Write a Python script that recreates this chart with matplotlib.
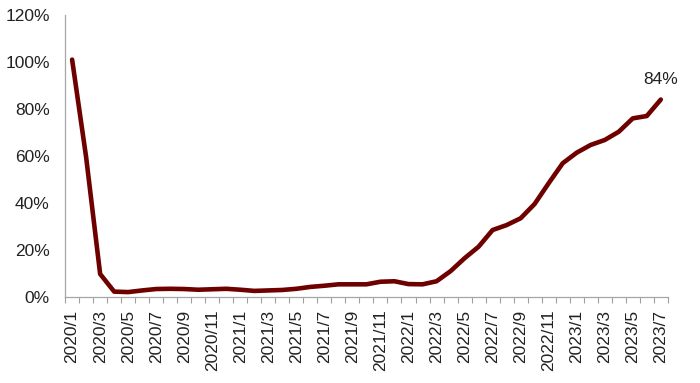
import matplotlib
matplotlib.use("Agg")
import matplotlib.pyplot as plt
from matplotlib.ticker import FixedLocator, FuncFormatter

plt.rcParams['font.family'] = ['Liberation Sans', 'DejaVu Sans']

months = []
for y in range(2020, 2024):
    for m in range(1, 13):
        months.append(f"{y}/{m}")
months = months[:43]  # 2020/1 .. 2023/7

values = [101, 59.5, 9.8, 2.3, 2.1, 2.8, 3.4, 3.5, 3.4, 3.1, 3.3, 3.5, 3.1, 2.6, 2.8,
          3.0, 3.5, 4.3, 4.8, 5.4, 5.4, 5.4, 6.5, 6.7, 5.5, 5.4, 6.7, 11, 16.5, 21.4,
          28.5, 30.6, 33.5, 39.6, 48.4, 56.9, 61.4, 64.7, 66.8, 70.3, 76, 77, 84]

yticks = [0, 20, 40, 60, 80, 100, 120]

fig = plt.figure(figsize=(7.0, 3.83), dpi=100)
ax = fig.add_axes([0.093, 0.2245, 0.861, 0.7365])

x = list(range(len(values)))
ax.plot(x, values, color='#6E0000', linewidth=3.3, solid_joinstyle='round', solid_capstyle='round')

ax.set_xlim(-0.5, len(values) - 0.5)
ax.set_ylim(0, 120)

ax.set_yticks(yticks)
ax.yaxis.set_major_formatter(FuncFormatter(lambda v, p: f"{int(v)}%"))
ax.tick_params(axis='y', length=0, pad=11, labelsize=12.5, colors='#222222')

ax.xaxis.set_major_locator(FixedLocator(x[::2]))
ax.set_xticklabels(months[::2], rotation=90, fontsize=12.5, color='#222222')
ax.xaxis.set_minor_locator(FixedLocator([i - 0.5 for i in range(len(values) + 1)]))
ax.tick_params(axis='x', which='major', length=0, pad=9)
ax.tick_params(axis='x', which='minor', length=4, color='#A0A0A0', width=0.8, direction='out')

for s in ['top', 'right']:
    ax.spines[s].set_visible(False)
for s in ['left', 'bottom']:
    ax.spines[s].set_color('#A6A6A6')
    ax.spines[s].set_linewidth(0.9)

ax.annotate(f"{values[-1]:.0f}%", xy=(x[-1], values[-1]), xytext=(0, 9),
            textcoords='offset points', ha='center', va='bottom', fontsize=12.5, color='#222222')

fig.savefig('out.png', dpi=100)
